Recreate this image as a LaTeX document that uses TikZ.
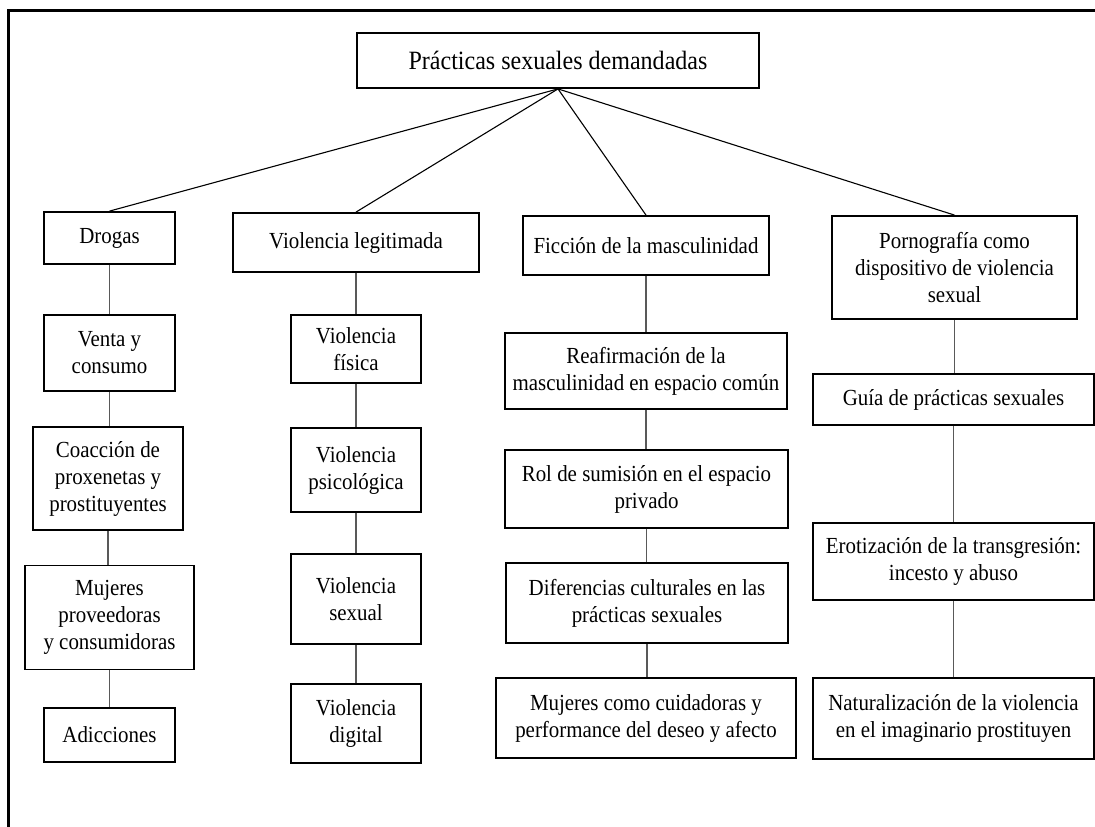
\documentclass[tikz,border=0pt]{standalone}
\usepackage{fontspec}
\setmainfont[FakeStretch=0.91]{Liberation Serif}
\begin{document}
\begin{tikzpicture}[x=1pt,y=-1pt,
  box/.style={draw=black, line width=1.8pt, fill=white, rectangle, inner sep=0pt, align=center,
     font=\fontsize{23}{27}\selectfont},
  link/.style={draw=black, line width=1.1pt},
  vlink/.style={draw=black!65, line width=1.3pt}]
\useasboundingbox (0,0) rectangle (1095,827);
\fill[white] (0,0) rectangle (1095,827);
\draw[line width=3pt] (8,840) -- (8,10) -- (1110,10);
% title
\node[box, minimum width=402pt, minimum height=55pt, font=\fontsize{26.4}{30}\selectfont] (title) at (558,60.5) {Prácticas sexuales demandadas};
% level 1
\node[box, minimum width=131pt, minimum height=52pt] (drogas) at (109.5,238) {Drogas};
\node[box, minimum width=246pt, minimum height=59pt] (vleg) at (356,242.5) {Violencia legitimada};
\node[box, minimum width=246pt, minimum height=59pt] (ficcion) at (646,245.5) {Ficción de la masculinidad};
\node[box, minimum width=245pt, minimum height=103pt] (porno) at (954.5,267.5) {Pornografía como\\dispositivo de violencia\\sexual};
% column 1
\node[box, minimum width=131pt, minimum height=76pt] (venta) at (109.5,353) {Venta y\\consumo};
\node[box, minimum width=150pt, minimum height=103pt] (coac) at (108,478.5) {Coacción de\\proxenetas y\\prostituyentes};
\node[box, minimum width=169pt, minimum height=104pt] (mujprov) at (109.5,617.5) {Mujeres\\proveedoras\\y consumidoras};
\node[box, minimum width=131pt, minimum height=54pt] (adic) at (109.5,735) {Adicciones};
% column 2
\node[box, minimum width=130pt, minimum height=68pt] (vfis) at (356,349) {Violencia\\física};
\node[box, minimum width=130pt, minimum height=84pt] (vpsi) at (356,470) {Violencia\\psicológica};
\node[box, minimum width=130pt, minimum height=90pt] (vsex) at (356,599) {Violencia\\sexual};
\node[box, minimum width=130pt, minimum height=79pt] (vdig) at (356,723.5) {Violencia\\digital};
% column 3
\node[box, minimum width=282pt, minimum height=76pt] (reaf) at (646,371) {Reafirmación de la\\masculinidad en espacio común};
\node[box, minimum width=283pt, minimum height=78pt] (rol) at (646.5,489) {Rol de sumisión en el espacio\\privado};
\node[box, minimum width=282pt, minimum height=80pt] (dif) at (647,603) {Diferencias culturales en las\\prácticas sexuales};
\node[box, minimum width=300pt, minimum height=80pt] (mujcuid) at (646,718) {Mujeres como cuidadoras y\\performance del deseo y afecto};
% column 4
\node[box, minimum width=281pt, minimum height=51pt] (guia) at (953.5,399.5) {Guía de prácticas sexuales};
\node[box, minimum width=281pt, minimum height=77pt] (erot) at (953.5,561.5) {Erotización de la transgresión:\\incesto y abuso};
\node[box, minimum width=281pt, minimum height=81pt] (natur) at (953.5,718.5) {Naturalización de la violencia\\en el imaginario prostituyen};
% connectors from title
\draw[link] (title.south) -- (drogas.north);
\draw[link] (title.south) -- (vleg.north);
\draw[link] (title.south) -- (ficcion.north);
\draw[link] (title.south) -- (porno.north);
% vertical connectors
\draw[vlink] (drogas.south) -- (venta.north);
\draw[vlink] (venta.south) -- (coac.north -| venta.south);
\draw[vlink] (coac.south) -- (mujprov.north -| coac.south);
\draw[vlink] (mujprov.south) -- (adic.north);
\draw[vlink] (vleg.south) -- (vfis.north);
\draw[vlink] (vfis.south) -- (vpsi.north);
\draw[vlink] (vpsi.south) -- (vsex.north);
\draw[vlink] (vsex.south) -- (vdig.north);
\draw[vlink] (ficcion.south) -- (reaf.north);
\draw[vlink] (reaf.south) -- (rol.north -| reaf.south);
\draw[vlink] (rol.south) -- (dif.north -| rol.south);
\draw[vlink] (dif.south) -- (mujcuid.north -| dif.south);
\draw[vlink] (porno.south) -- (guia.north -| porno.south);
\draw[vlink] (guia.south) -- (erot.north);
\draw[vlink] (erot.south) -- (natur.north);
\end{tikzpicture}
\end{document}
